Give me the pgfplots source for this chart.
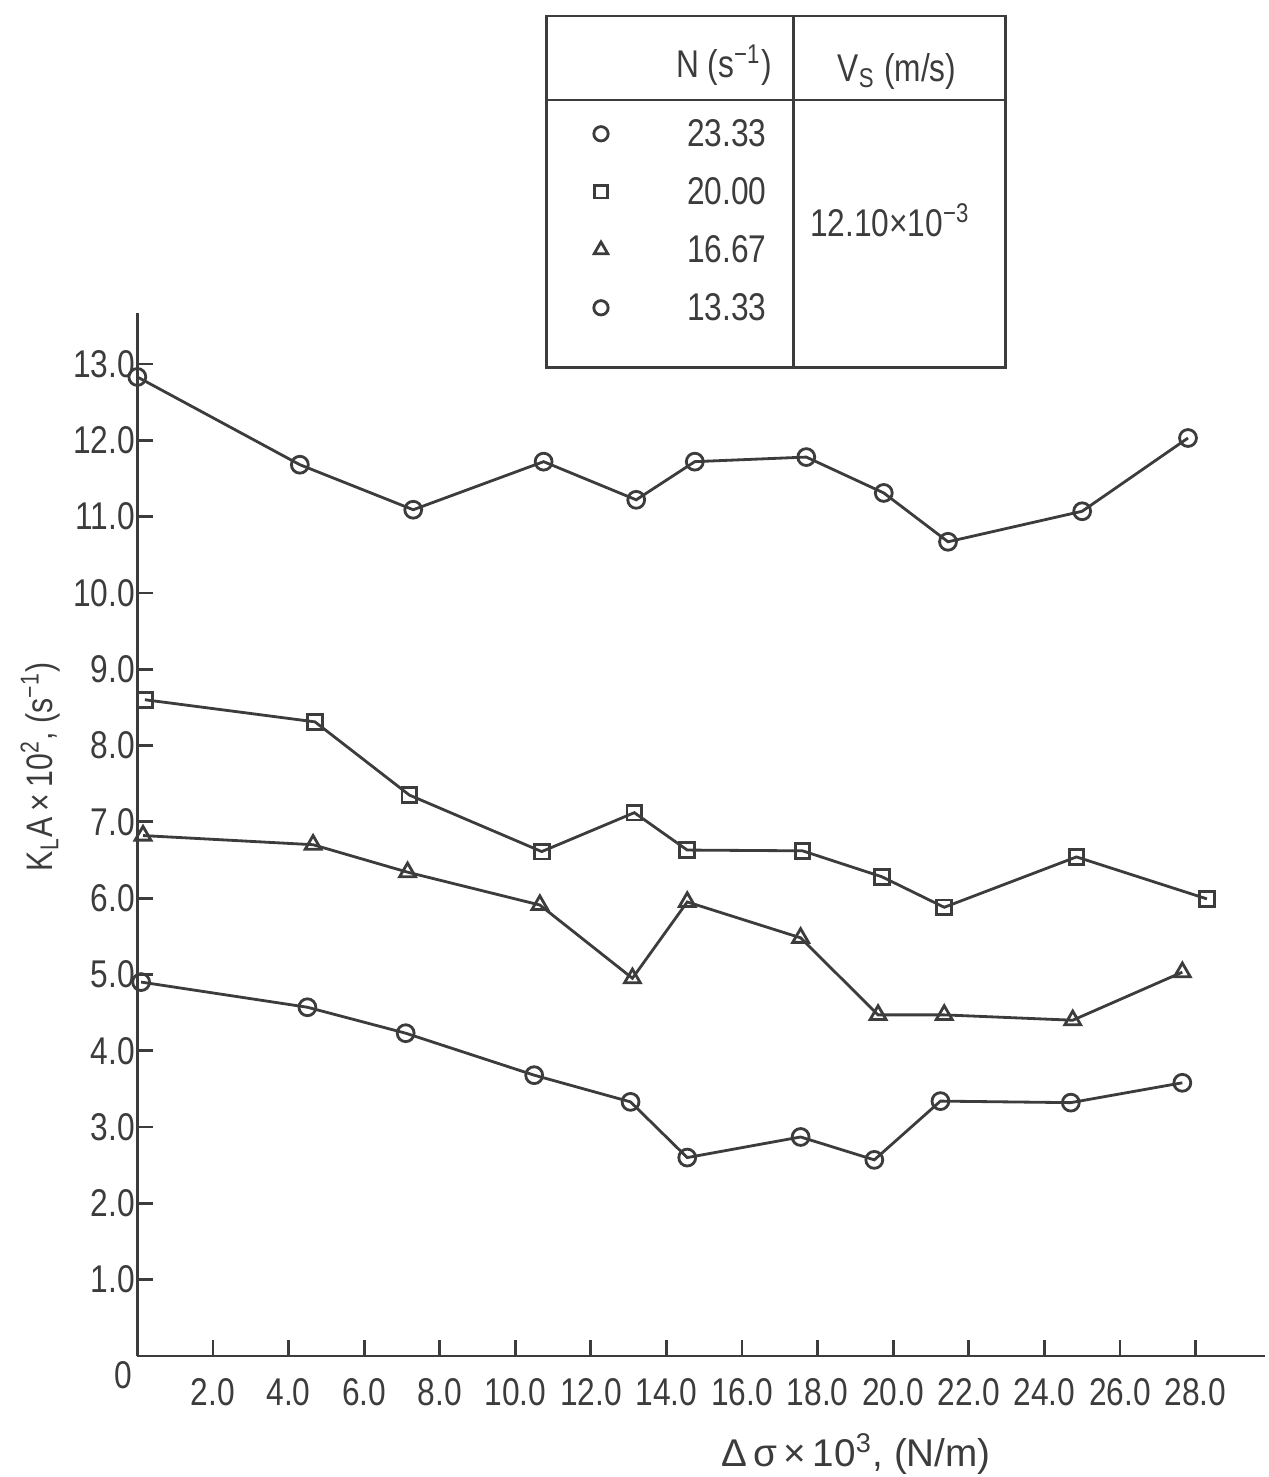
\documentclass[border=0pt]{standalone}
\usepackage{pgfplots}
\pgfplotsset{compat=1.18}
\usepackage{fontspec}
\setmainfont{Liberation Sans}[FakeStretch=0.82]
\newfontfamily\widefont{Liberation Sans}
\definecolor{ink}{HTML}{3C3C3C}
\newcommand{\lab}{\fontsize{11}{13}\selectfont}

\begin{document}
\begin{tikzpicture}
\begin{axis}[
  scale only axis, width=112.8mm, height=104.3mm,
  xmin=0, xmax=29.85, ymin=0, ymax=13.67,
  clip=false,
  axis lines=left, axis line style={-, ink, line width=0.8pt},
  tick align=inside, major tick length=1.6mm,
  tick style={ink, line width=0.8pt},
  xtick={2,4,...,28}, ytick={1,2,...,13},
  /pgf/number format/fixed,
  /pgf/number format/fixed zerofill,
  /pgf/number format/precision=1,
  /pgf/number format/assume math mode=true,
  ticklabel style={font=\lab, text=ink},
  yticklabel style={inner xsep=0.5pt},
  xticklabel style={yshift=-1mm},
  xlabel={Δ\,σ\,×\,10\textsuperscript{3}, (N/m)},
  xlabel style={at={(axis description cs:0.637,-0.094)}, anchor=center, font=\widefont\lab, text=ink},
  ylabel={K\textsubscript{L}A\,×\,10\textsuperscript{2}, (s\textsuperscript{−1})},
  ylabel style={at={(axis description cs:-0.086,0.565)}, anchor=center, font=\fontsize{10.5}{12}\selectfont, text=ink},
  legend cell align=left,
  legend image code/.code={\draw[#1, only marks, mark options={solid, fill=white, scale=0.85}] plot coordinates {(0cm,0.02cm)};},
  legend style={at={(axis cs:12.06,16.38)}, anchor=north west, draw=none, fill=none,
    inner sep=0pt, row sep=0pt,
    nodes={font=\lab, text=ink, minimum height=5.8mm, inner ysep=0pt, inner xsep=0pt}},
  every axis plot/.append style={ink, line width=0.8pt, mark options={solid, fill=white}},
]
% N = 23.33 1/s
\addplot[mark=o, mark size=2.4pt] coordinates {
  (0,12.83) (4.3,11.68) (7.3,11.09) (10.75,11.72) (13.2,11.22) (14.75,11.72)
  (17.7,11.78) (19.75,11.31) (21.45,10.67) (25.0,11.07) (27.8,12.03)};
\addlegendentry{\hspace*{7.9mm}23.33}
% N = 20.00 1/s
\addplot[mark=square, mark size=2.1pt] coordinates {
  (0.2,8.60) (4.7,8.31) (7.2,7.35) (10.7,6.61) (13.15,7.12) (14.55,6.63)
  (17.6,6.62) (19.7,6.28) (21.35,5.88) (24.85,6.54) (28.3,5.99)};
\addlegendentry{\hspace*{7.9mm}20.00}
% N = 16.67 1/s
\addplot[mark=triangle, mark size=2.6pt] coordinates {
  (0.15,6.82) (4.65,6.70) (7.15,6.34) (10.65,5.91) (13.1,4.95) (14.55,5.95)
  (17.55,5.48) (19.6,4.47) (21.35,4.47) (24.75,4.40) (27.65,5.03)};
\addlegendentry{\hspace*{7.9mm}16.67}
% N = 13.33 1/s
\addplot[mark=o, mark size=2.4pt] coordinates {
  (0.1,4.90) (4.5,4.57) (7.1,4.23) (10.5,3.68) (13.05,3.33) (14.55,2.60)
  (17.55,2.87) (19.5,2.57) (21.25,3.34) (24.7,3.32) (27.65,3.58)};
\addlegendentry{\hspace*{7.9mm}13.33}

% table frame around the legend
\draw[ink, line width=0.8pt] (axis cs:10.82,12.95) rectangle (axis cs:22.97,17.56);
\draw[ink, line width=0.8pt] (axis cs:17.37,12.95) -- (axis cs:17.37,17.56);
\draw[ink, line width=0.8pt] (axis cs:10.82,16.46) -- (axis cs:22.97,16.46);
\node[anchor=base, font=\lab, text=ink] at (axis cs:15.52,16.76) {N (s\textsuperscript{−1})};
\node[anchor=base, font=\lab, text=ink] at (axis cs:20.1,16.70) {V\textsubscript{S} (m/s)};
\node[anchor=base, font=\lab, text=ink] at (axis cs:19.92,14.67) {12.10×10\textsuperscript{−3}};
\node[anchor=north east, font=\lab, text=ink, inner sep=0.5mm] at (axis cs:0,0) {0};

\coordinate (bl) at (axis cs:-3.634,-1.586);
\coordinate (tr) at (axis cs:29.92,17.77);
\end{axis}
\pgfresetboundingbox
\useasboundingbox (bl) rectangle (tr);
\end{tikzpicture}
\end{document}
